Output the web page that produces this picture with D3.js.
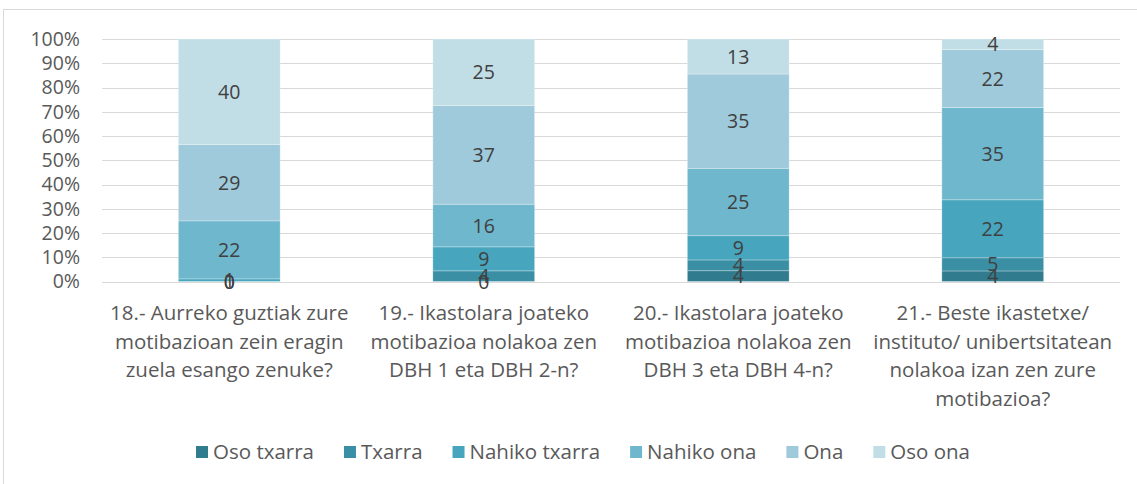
<!DOCTYPE html>
<html>
<head>
<meta charset="UTF-8">
<title>Motibazioa</title>
<script src="https://d3js.org/d3.v7.min.js"></script>
<style>
  body { margin: 0; background: #fff; }
  text { font-family: "Open Sans", "Noto Sans", sans-serif; }
</style>
</head>
<body>
<svg id="chart" width="1137" height="484"></svg>
<script>
// values (answer counts, shown as 100% stacked)
var categories = [
    ["18.- Aurreko guztiak zure", "motibazioan zein eragin", "zuela esango zenuke?"],
    ["19.- Ikastolara joateko", "motibazioa nolakoa zen", "DBH 1 eta DBH 2-n?"],
    ["20.- Ikastolara joateko", "motibazioa nolakoa zen", "DBH 3 eta DBH 4-n?"],
    ["21.- Beste ikastetxe/", "instituto/ unibertsitatean", "nolakoa izan zen zure", "motibazioa?"]
];
var seriesNames = ["Oso txarra", "Txarra", "Nahiko txarra", "Nahiko ona", "Ona", "Oso ona"];
var osoTxarra    = [0, 0, 4, 4];
var txarra       = [0, 4, 4, 5];
var nahikoTxarra = [1, 9, 9, 22];
var nahikoOna    = [22, 16, 25, 35];
var ona          = [29, 37, 35, 22];
var osoOna       = [40, 25, 13, 4];
var yTicks = [0, 0.1, 0.2, 0.3, 0.4, 0.5, 0.6, 0.7, 0.8, 0.9, 1];

var colors = ["#317b8e", "#3b8fa5", "#47a5bd", "#6fb7cd", "#9fcadb", "#c1dde6"];
var series = [osoTxarra, txarra, nahikoTxarra, nahikoOna, ona, osoOna];

var svg = d3.select("#chart");

// outer frame
svg.append("rect")
    .attr("x", 3.5).attr("y", 9.5)
    .attr("width", 1140).attr("height", 490)
    .attr("fill", "none").attr("stroke", "#d9d9d9");

var x = d3.scaleBand().domain(d3.range(categories.length)).range([102, 1120]).paddingInner(0.6).paddingOuter(0.3);
var y = d3.scaleLinear().domain([0, 1]).range([281.5, 39]);

// gridlines
svg.append("g").selectAll("line").data(yTicks).enter().append("line")
    .attr("x1", 102).attr("x2", 1120)
    .attr("y1", function (d) { return Math.round(y(d)) + 0.5; })
    .attr("y2", function (d) { return Math.round(y(d)) + 0.5; })
    .attr("stroke", "#d9d9d9").attr("stroke-width", 1);

// y axis labels
var yAxis = d3.axisLeft(y).tickValues(yTicks).tickFormat(d3.format(".0%")).tickSize(0).tickPadding(0);
var ya = svg.append("g").attr("transform", "translate(80,0)").call(yAxis);
ya.select(".domain").remove();
ya.selectAll("text").attr("fill", "#595959").style("font-size", "19.5px");

// stack rows
var rows = categories.map(function (c, i) {
    var r = {i: i};
    seriesNames.forEach(function (s, k) { r[s] = series[k][i]; });
    return r;
});
var stack = d3.stack().keys(seriesNames).offset(d3.stackOffsetExpand);
var layers = stack(rows);

var g = svg.append("g");
layers.forEach(function (layer, k) {
    var lg = g.append("g");
    lg.selectAll("rect").data(layer).enter().append("rect")
        .attr("x", function (d, i) { return x(i); })
        .attr("width", x.bandwidth())
        .attr("y", function (d) { return y(d[1]); })
        .attr("height", function (d) { return y(d[0]) - y(d[1]); })
        .attr("fill", colors[k])
        .attr("stroke", "#ffffff").attr("stroke-opacity", 0.35).attr("stroke-width", 0.8);
});

// value labels
layers.forEach(function (layer, k) {
    g.append("g").selectAll("text").data(layer).enter().append("text")
        .attr("x", function (d, i) { return x(i) + x.bandwidth() / 2; })
        .attr("y", function (d) { return (y(d[0]) + y(d[1])) / 2; })
        .attr("dy", "0.36em")
        .attr("text-anchor", "middle")
        .attr("fill", "#404040")
        .style("font-size", "19.5px")
        .text(function (d, i) { return series[k][i]; });
});

// category labels
var cl = svg.append("g");
categories.forEach(function (lines, i) {
    var t = cl.append("text")
        .attr("text-anchor", "middle")
        .attr("fill", "#595959")
        .style("font-size", "20.5px");
    lines.forEach(function (line, j) {
        t.append("tspan")
            .attr("x", x(i) + x.bandwidth() / 2)
            .attr("y", 320 + j * 28.5)
            .text(line);
    });
});

// legend
var legend = svg.append("g");
var lx = 0;
seriesNames.forEach(function (s, k) {
    var it = legend.append("g");
    it.append("rect").attr("x", 0).attr("y", -6).attr("width", 12).attr("height", 12).attr("fill", colors[k]);
    var tx = it.append("text").attr("x", 17).attr("dy", "0.36em")
        .attr("fill", "#595959").style("font-size", "20.5px").text(s);
    var w = 17 + tx.node().getComputedTextLength();
    it.attr("transform", "translate(" + lx + ",0)");
    lx += w + 30;
});
lx -= 30;
legend.attr("transform", "translate(" + (583 - lx / 2) + ",452)");
</script>
</body>
</html>
